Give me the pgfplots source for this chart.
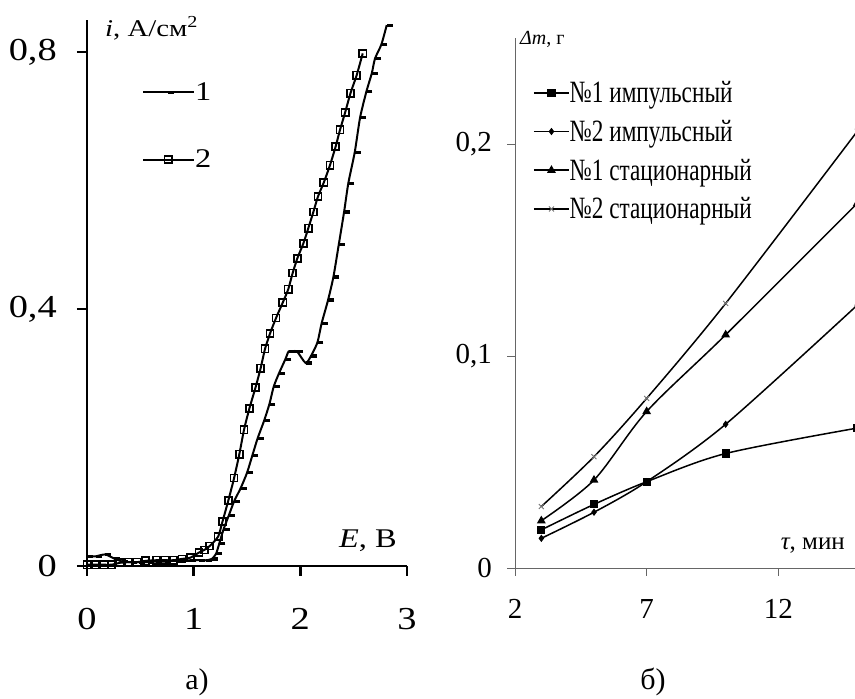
\documentclass[border=0pt]{standalone}
\usepackage{pgfplots}
\pgfplotsset{compat=1.18}
\usepackage{fontspec}
\setmainfont{Liberation Serif}
\newfontfamily\wide[FakeStretch=1.2]{Liberation Serif}
\newfontfamily\narrow[FakeStretch=0.75]{Liberation Serif}
\newcommand\fs[1]{\fontsize{#1}{#1}\selectfont}

% curve 1 and 2, panel a)
\pgfplotstableread{
E i
0 0.015
0.08 0.015
0.17 0.018
0.25 0.012
0.33 0.007
0.41 0.006
0.49 0.006
0.57 0.006
0.65 0.007
0.73 0.007
0.81 0.008
0.89 0.008
0.97 0.009
1.05 0.009
1.12 0.009
1.17 0.011
1.21 0.019
1.24 0.035
1.28 0.057
1.33 0.079
1.38 0.101
1.44 0.121
1.50 0.145
1.55 0.172
1.60 0.199
1.66 0.226
1.71 0.252
1.75 0.279
1.80 0.300
1.86 0.322
1.89 0.334
1.93 0.334
1.97 0.334
2.05 0.316
2.10 0.327
2.16 0.348
2.20 0.378
2.26 0.414
2.31 0.450
2.36 0.500
2.41 0.551
2.45 0.596
2.51 0.644
2.56 0.698
2.62 0.739
2.67 0.767
2.70 0.790
2.76 0.812
2.81 0.842
}\curveone

\pgfplotstableread{
E i
0 0.002
0.08 0.002
0.16 0.002
0.23 0.002
0.31 0.005
0.39 0.006
0.47 0.006
0.55 0.008
0.65 0.009
0.73 0.009
0.81 0.009
0.89 0.011
0.97 0.013
1.05 0.021
1.10 0.025
1.15 0.031
1.23 0.046
1.27 0.069
1.325 0.102
1.379 0.137
1.428 0.174
1.472 0.212
1.522 0.245
1.580 0.278
1.628 0.308
1.669 0.338
1.716 0.362
1.772 0.386
1.835 0.410
1.887 0.431
1.928 0.456
1.972 0.479
2.028 0.502
2.075 0.526
2.122 0.551
2.165 0.575
2.22 0.597
2.278 0.624
2.331 0.653
2.372 0.679
2.42 0.706
2.47 0.736
2.528 0.764
2.585 0.798
}\curvetwo

\begin{document}
\begin{tikzpicture}
\useasboundingbox (0,0) rectangle (855pt,699pt);

\begin{axis}[
  at={(87pt,133pt)}, anchor=south west,
  scale only axis, width=320pt, height=546pt,
  xmin=0, xmax=3, ymin=0, ymax=0.85,
  axis lines*=left,
  axis line style={line width=2.5pt},
  tick style={line width=2.5pt, black},
  tick align=outside, major tick length=10pt,
  xtick={0,1,2,3}, ytick={0,0.4,0.8},
  xticklabels={0,1,2,3},
  yticklabels={0,{0,4},{0,8}},
  /pgf/number format/assume math mode=true,
  ticklabel style={font=\wide\fs{32}, inner sep=0pt},
  xticklabel style={yshift=-32pt},
  yticklabel style={xshift=-20pt},
  clip=false,
  legend style={draw=none, fill=none, inner sep=0pt,
    at={(0.172,0.806)}, anchor=west,
    font=\wide\fs{27}, row sep=48pt,
    nodes={inner sep=0pt},
    /tikz/every even column/.style={column sep=9pt}},
  legend cell align=left,
  legend image code/.code={\draw[mark repeat=2,mark phase=2,#1]
    plot coordinates {(0pt,0pt) (25pt,0pt) (51pt,0pt)};},
]
\addplot[black, line width=2pt, smooth, tension=0.4, mark=-,
  mark size=3pt, mark options={xshift=3pt, line width=3.2pt}]
  table[x=E, y=i] {\curveone};
\addlegendentry{1}
\addplot[black, line width=2pt, smooth, tension=0.4, mark=square,
  mark size=3.6pt, mark options={line width=1.6pt}]
  table[x=E, y=i] {\curvetwo};
\addlegendentry{2}
\end{axis}

\begin{axis}[
  at={(515pt,131pt)}, anchor=south west,
  scale only axis, width=342.3pt, height=530pt,
  xmin=2, xmax=15, ymin=0, ymax=0.25,
  axis lines*=left,
  axis line style={line width=0.8pt, black!60},
  tick style={line width=0.8pt, black!60},
  tick align=outside, major tick length=8pt,
  xtick={2,7,12}, ytick={0,0.1,0.2},
  xticklabels={2,7,12},
  yticklabels={0,{0,1},{0,2}},
  /pgf/number format/assume math mode=true,
  ticklabel style={font=\fs{29}, inner sep=0pt},
  xticklabel style={yshift=-23pt},
  yticklabel style={xshift=-15pt},
  clip=false,
  legend style={draw=none, fill=none, inner sep=0pt,
    at={(0.0526,0.787)}, anchor=west,
    font=\narrow\fs{31}, row sep=16pt,
    nodes={inner sep=0pt},
    /tikz/every even column/.style={column sep=6pt}},
  legend cell align=left,
  legend image code/.code={\draw[mark repeat=2,mark phase=2,#1]
    plot coordinates {(0pt,0pt) (17.5pt,0pt) (35pt,0pt)};},
]
\addplot[black, line width=1.5pt, smooth, mark=square*, mark size=3.3pt]
  coordinates {(3,0.018) (5,0.030) (7,0.0407) (10,0.054) (15,0.066)};
\addlegendentry{№1 импульсный}
\addplot[black, line width=1.5pt, smooth, mark=diamond*, mark size=2.5pt]
  coordinates {(3,0.014) (5,0.0263) (7,0.0407) (10,0.0678) (15,0.124)};
\addlegendentry{№2 импульсный}
\addplot[black, line width=1.5pt, smooth, mark=triangle*, mark size=3.6pt]
  coordinates {(3,0.0223) (5,0.0415) (7,0.0738) (10,0.110) (15,0.172)};
\addlegendentry{№1 стационарный}
\addplot[black, line width=1.5pt, smooth, mark=x, mark size=3.5pt,
  mark options={black!55, line width=0.9pt}]
  coordinates {(3,0.029) (5,0.0525) (7,0.080) (10,0.1248) (15,0.206)};
\addlegendentry{№2 стационарный}
\end{axis}

\node[anchor=base west, inner sep=0pt, font=\wide\fs{24}] at (105pt,662pt)
  {\textit{i}, А/см\textsuperscript{2}};
\node[anchor=base east, inner sep=0pt, font=\wide\fs{27}] at (397pt,151pt)
  {\textit{E}, В};
\node[inner sep=0pt, font=\fs{30}] at (197pt,17pt) {а)};
\node[anchor=base west, inner sep=0pt, font=\fs{20}] at (520pt,654pt)
  {\textit{Δm}, г};
\node[anchor=base east, inner sep=0pt, font=\fs{25}] at (845pt,149pt)
  {\textit{τ}, мин};
\node[inner sep=0pt, font=\fs{30}] at (653pt,17pt) {б)};
\end{tikzpicture}
\end{document}
